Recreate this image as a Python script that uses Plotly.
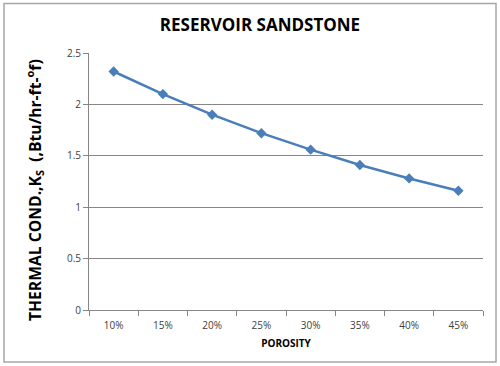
import plotly.graph_objects as go

porosity = ["10%", "15%", "20%", "25%", "30%", "35%", "40%", "45%"]
thermal_cond = [2.32, 2.10, 1.90, 1.72, 1.56, 1.41, 1.28, 1.16]
y_ticks = [0, 0.5, 1, 1.5, 2, 2.5]
y_tick_labels = ["0", "0.5", "1", "1.5", "2", "2.5"]

W, H = 500, 366
L, R, T, B = 89, 17, 53, 56
pw, ph = W - L - R, H - T - B

def px(x):
    return (x - L) / pw

def py(y):
    return (H - B - y) / ph

fig = go.Figure()
fig.add_trace(go.Scatter(
    x=porosity, y=thermal_cond, mode="lines+markers",
    line=dict(color="#4A7EBB", width=2.5),
    marker=dict(symbol="diamond", size=8, color="#4A7EBB"),
    showlegend=False,
))

fig.update_layout(
    width=W, height=H,
    margin=dict(l=L, r=R, t=T, b=B),
    paper_bgcolor="white", plot_bgcolor="white",
    font=dict(family="Open Sans, Liberation Sans, sans-serif", color="#404040"),
    title=dict(text="<b>RESERVOIR SANDSTONE</b>", x=0.52, xanchor="center",
               y=1 - 25 / H, yanchor="middle",
               font=dict(size=17, color="#000000",
                         family="Open Sans, Liberation Sans, sans-serif")),
    xaxis=dict(
        type="category", showgrid=False, showline=True, linecolor="#868686",
        linewidth=1, ticks="outside", ticklen=5, tickcolor="#868686",
        tickson="boundaries", tickfont=dict(size=10, color="#404040"),
        ticklabelstandoff=6,
        title=dict(text="<b>POROSITY</b>", font=dict(size=10, color="#000000"),
                   standoff=8),
        range=[-0.5, 7.5],
    ),
    yaxis=dict(
        range=[0, 2.5], tickvals=y_ticks, ticktext=y_tick_labels,
        showgrid=True, gridcolor="#868686", gridwidth=1,
        showline=True, linecolor="#868686", linewidth=1,
        ticks="outside", ticklen=5, tickcolor="#868686",
        tickfont=dict(size=10, color="#404040"), zeroline=False,
    ),
    annotations=[dict(
        text="<b>THERMAL COND.,K<sub>S</sub>  (,Btu/hr-ft-<sup>o</sup>f)</b>",
        textangle=-90, xref="paper", yref="paper",
        x=px(34), y=py(190), xanchor="center", yanchor="middle",
        showarrow=False, font=dict(size=15.7, color="#000000"),
    )],
    shapes=[dict(type="rect", xref="paper", yref="paper",
                 x0=px(4), x1=px(496), y0=py(362), y1=py(3.5),
                 line=dict(color="#A6A6A6", width=1.5), layer="above")],
)

fig.write_html("out.html",
               config={"displayModeBar": False},
               post_script="document.body.style.margin='0';document.body.style.padding='0';")
